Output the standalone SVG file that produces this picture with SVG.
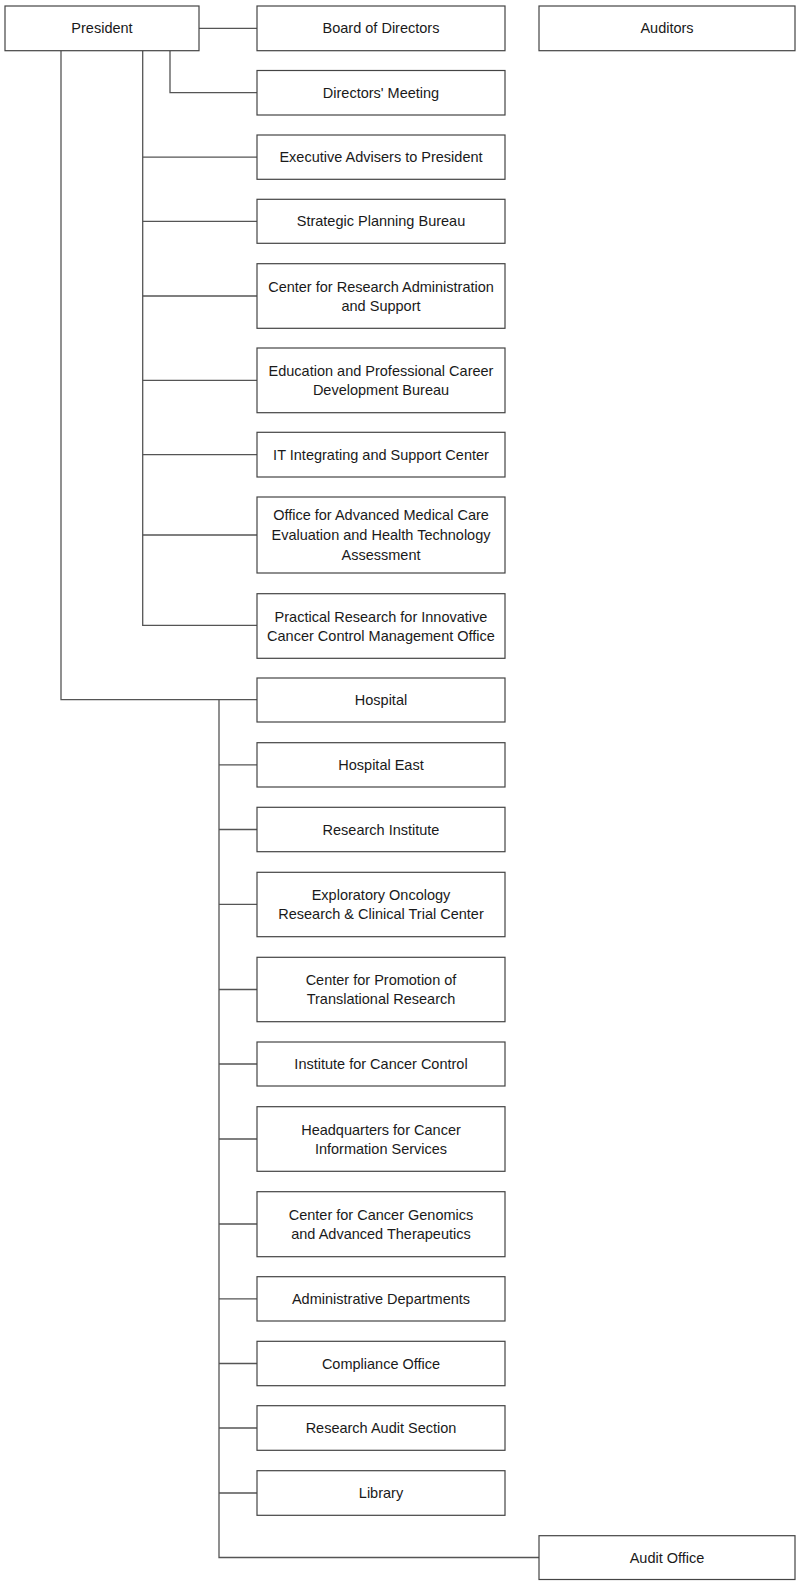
<svg xmlns="http://www.w3.org/2000/svg" width="800" height="1584" viewBox="0 0 800 1584">
<style>
rect.n{fill:#fff;stroke:#444;stroke-width:1.2}
text{font-family:"Liberation Sans",Arial,sans-serif;font-size:14.5px;fill:#1a1a1a;text-anchor:middle}
.c path{fill:none;stroke:#555;stroke-width:1.3}
</style>
<rect width="800" height="1584" fill="#fff"/>
<g class="c" id="connectors">
<path d="M199 28.3H257"/>
<path d="M170 50.7V92.7H257"/>
<path d="M142.7 50.7V625.3H257"/>
<path d="M142.7 157.2H257M142.7 221.3H257M142.7 296H257M142.7 380.3H257M142.7 454.7H257M142.7 535H257"/>
<path d="M61 50.7V699.7H257"/>
<path d="M219 699.7V1557.5H539"/>
<path d="M219 764.8H257M219 829.5H257M219 904.3H257M219 989.5H257M219 1064H257M219 1139H257M219 1224H257M219 1298.8H257M219 1363.5H257M219 1428H257M219 1493H257"/>
</g>
<g id="president"><rect class="n" x="5" y="6" width="194" height="44.7"/><text x="102" y="33.3">President</text></g>
<g id="board"><rect class="n" x="257" y="6" width="248" height="44.7"/><text x="381" y="33.3">Board of Directors</text></g>
<g id="auditors"><rect class="n" x="539" y="6" width="256" height="44.7"/><text x="667" y="33.3">Auditors</text></g>
<g id="directors-meeting"><rect class="n" x="257" y="70.5" width="248" height="44.5"/><text x="381" y="97.7">Directors' Meeting</text></g>
<g id="executive-advisers"><rect class="n" x="257" y="135" width="248" height="44.3"/><text x="381" y="162.2">Executive Advisers to President</text></g>
<g id="strategic-planning"><rect class="n" x="257" y="199.3" width="248" height="44"/><text x="381" y="226.3">Strategic Planning Bureau</text></g>
<g id="research-admin"><rect class="n" x="257" y="263.7" width="248" height="64.6"/><text x="381" y="291.5">Center for Research Administration</text><text x="381" y="310.7">and Support</text></g>
<g id="education"><rect class="n" x="257" y="348" width="248" height="64.7"/><text x="381" y="375.8">Education and Professional Career</text><text x="381" y="395">Development Bureau</text></g>
<g id="it-center"><rect class="n" x="257" y="432.3" width="248" height="44.7"/><text x="381" y="459.7">IT Integrating and Support Center</text></g>
<g id="advanced-medical"><rect class="n" x="257" y="497" width="248" height="76"/><text x="381" y="520.3">Office for Advanced Medical Care</text><text x="381" y="540">Evaluation and Health Technology</text><text x="381" y="559.7">Assessment</text></g>
<g id="practical-research"><rect class="n" x="257" y="593.7" width="248" height="64.6"/><text x="381" y="621.5">Practical Research for Innovative</text><text x="381" y="640.7">Cancer Control Management Office</text></g>
<g id="hospital"><rect class="n" x="257" y="678" width="248" height="44"/><text x="381" y="705">Hospital</text></g>
<g id="hospital-east"><rect class="n" x="257" y="742.7" width="248" height="44.3"/><text x="381" y="769.8">Hospital East</text></g>
<g id="research-institute"><rect class="n" x="257" y="807.3" width="248" height="44.4"/><text x="381" y="834.5">Research Institute</text></g>
<g id="exploratory"><rect class="n" x="257" y="872.3" width="248" height="64.4"/><text x="381" y="900">Exploratory Oncology</text><text x="381" y="919.2">Research &amp; Clinical Trial Center</text></g>
<g id="translational"><rect class="n" x="257" y="957.3" width="248" height="64.4"/><text x="381" y="985">Center for Promotion of</text><text x="381" y="1004.2">Translational Research</text></g>
<g id="cancer-control"><rect class="n" x="257" y="1042" width="248" height="44"/><text x="381" y="1069">Institute for Cancer Control</text></g>
<g id="info-services"><rect class="n" x="257" y="1106.7" width="248" height="64.6"/><text x="381" y="1134.5">Headquarters for Cancer</text><text x="381" y="1153.7">Information Services</text></g>
<g id="genomics"><rect class="n" x="257" y="1191.7" width="248" height="65"/><text x="381" y="1219.6">Center for Cancer Genomics</text><text x="381" y="1238.8">and Advanced Therapeutics</text></g>
<g id="administrative"><rect class="n" x="257" y="1276.7" width="248" height="44.3"/><text x="381" y="1303.8">Administrative Departments</text></g>
<g id="compliance"><rect class="n" x="257" y="1341.3" width="248" height="44.4"/><text x="381" y="1368.5">Compliance Office</text></g>
<g id="research-audit"><rect class="n" x="257" y="1405.7" width="248" height="44.6"/><text x="381" y="1433">Research Audit Section</text></g>
<g id="library"><rect class="n" x="257" y="1470.7" width="248" height="44.6"/><text x="381" y="1498">Library</text></g>
<g id="audit-office"><rect class="n" x="539" y="1535.7" width="256" height="43.8"/><text x="667" y="1562.5">Audit Office</text></g>
</svg>
